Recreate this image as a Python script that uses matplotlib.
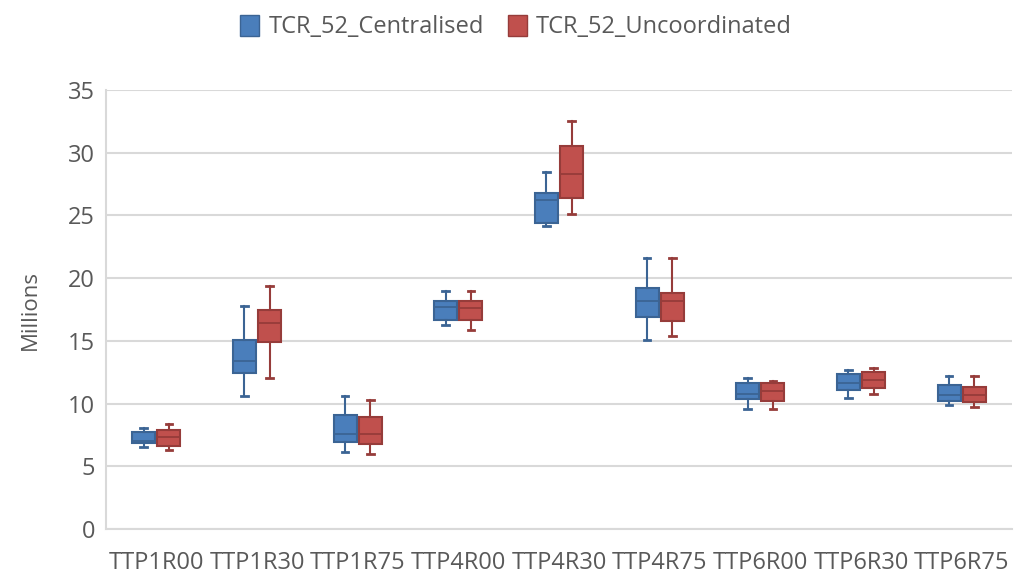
import matplotlib
matplotlib.use("Agg")
import matplotlib.pyplot as plt
from matplotlib.patches import Patch

categories = ["TTP1R00", "TTP1R30", "TTP1R75", "TTP4R00", "TTP4R30",
              "TTP4R75", "TTP6R00", "TTP6R30", "TTP6R75"]

# (whislo, q1, med, q3, whishi) in millions
centralised = [
    (6.5, 6.85, 7.05, 7.75, 8.05),
    (10.6, 12.45, 13.4, 15.1, 17.8),
    (6.15, 6.95, 7.6, 9.1, 10.6),
    (16.25, 16.7, 17.7, 18.2, 19.0),
    (24.15, 24.4, 26.25, 26.75, 28.45),
    (15.1, 16.9, 18.15, 19.2, 21.6),
    (9.55, 10.4, 10.8, 11.65, 12.0),
    (10.45, 11.05, 11.65, 12.35, 12.7),
    (9.9, 10.2, 10.7, 11.5, 12.2),
]
uncoordinated = [
    (6.3, 6.65, 7.3, 7.9, 8.4),
    (12.0, 14.9, 16.45, 17.5, 19.35),
    (5.95, 6.8, 7.55, 8.95, 10.25),
    (15.9, 16.7, 17.65, 18.2, 19.0),
    (25.15, 26.35, 28.3, 30.5, 32.55),
    (15.4, 16.55, 18.15, 18.85, 21.6),
    (9.55, 10.2, 11.0, 11.65, 11.8),
    (10.8, 11.25, 11.85, 12.5, 12.85),
    (9.75, 10.1, 10.7, 11.3, 12.2),
]
series_names = ["TCR_52_Centralised", "TCR_52_Uncoordinated"]
yticks = [0, 5, 10, 15, 20, 25, 30, 35]

fills = ["#4A7EBB", "#C0504D"]
edges = ["#3B6494", "#963C3A"]

plt.rcParams['font.family'] = ['Open Sans', 'DejaVu Sans']
fig = plt.figure(figsize=(10.16, 5.74), dpi=100)
ax = fig.add_axes([106/1016, 45/574, (1012-106)/1016, (529-90)/574])

def to_stats(data):
    return [dict(whislo=a, q1=b, med=c, q3=d, whishi=e, fliers=[]) for a, b, c, d, e in data]

off = 0.125
for k, data in enumerate([centralised, uncoordinated]):
    pos = [i + (-off if k == 0 else off) for i in range(len(categories))]
    ax.bxp(to_stats(data), positions=pos, widths=0.23, capwidths=0.065,
           patch_artist=True, showfliers=False, manage_ticks=False,
           boxprops=dict(facecolor=fills[k], edgecolor=edges[k], linewidth=1.5),
           whiskerprops=dict(color=edges[k], linewidth=1.5),
           capprops=dict(color=edges[k], linewidth=2.0),
           medianprops=dict(color=edges[k], linewidth=1.3))

ax.set_xlim(-0.5, len(categories) - 0.5)
ax.set_ylim(0, 35)
ax.set_yticks(yticks)
ax.set_xticks(range(len(categories)))
ax.set_xticklabels(categories)
ax.yaxis.grid(True, color="#D9D9D9", linewidth=1.5)
ax.set_axisbelow(True)
for s in ["top", "right"]:
    ax.spines[s].set_visible(False)
ax.spines["left"].set_color("#D9D9D9")
ax.spines["bottom"].set_color("#D9D9D9")
ax.spines["left"].set_linewidth(1.5)
ax.spines["bottom"].set_linewidth(1.5)
ax.tick_params(axis="y", length=0, labelsize=17, colors="#595959", pad=8)
ax.tick_params(axis="x", length=0, labelsize=17, colors="#595959", pad=16)
ax.set_ylabel("Millions", fontsize=16, color="#595959", labelpad=19)

handles = [Patch(facecolor=fills[k], edgecolor=edges[k], label=series_names[k]) for k in range(2)]
fig.legend(handles=handles, loc="center", bbox_to_anchor=(0.508, 1 - 27/574), ncol=2,
           frameon=False, fontsize=17, labelcolor="#595959", handlelength=0.8,
           handleheight=1.0, handletextpad=0.4, columnspacing=1.0)

fig.savefig("out.png", dpi=100)
